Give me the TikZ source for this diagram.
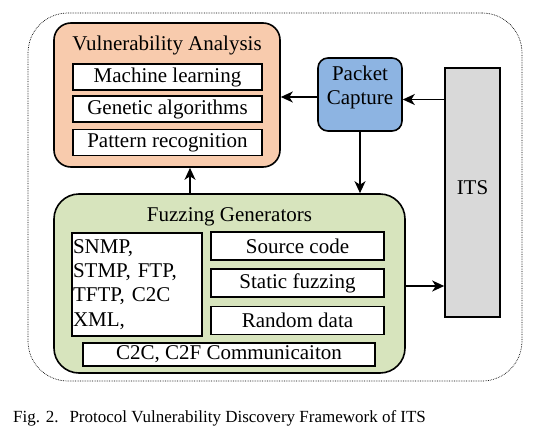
\documentclass[tikz,border=0pt]{standalone}
\usepackage{fontspec}
\setmainfont{Liberation Serif}
\usetikzlibrary{arrows.meta}
\definecolor{vaorange}{RGB}{248,203,173}
\definecolor{pcblue}{RGB}{141,180,226}
\definecolor{itsgray}{RGB}{217,217,217}
\definecolor{fggreen}{RGB}{215,228,189}
\begin{document}
\begin{tikzpicture}[x=1pt,y=-1pt,
  every node/.style={font=\fontsize{21}{24.3}\selectfont, inner sep=0pt},
  group/.style={draw, line width=1.6pt},
  item/.style={draw, fill=white, line width=1.4pt},
  arr/.style={line width=1.5pt, -{Stealth[length=12pt,width=11pt,inset=3.5pt]}}]
\useasboundingbox (0,0) rectangle (543,447);
% outer dotted frame
\node[draw, densely dotted, line width=0.7pt, rounded corners=40pt,
      minimum width=494pt, minimum height=368pt] (frame) at (275,197) {};
% Vulnerability Analysis
\node[group, fill=vaorange, rounded corners=17pt, minimum width=226pt, minimum height=144pt] (va) at (167,95) {};
\node (vatitle) at (167,45) {Vulnerability Analysis};
\node[item, minimum width=189pt, minimum height=26pt] (ml) at (167.5,77) {Machine learning};
\node[item, minimum width=189pt, minimum height=26pt] (ga) at (167.5,109) {Genetic algorithms};
\node[item, minimum width=189pt, minimum height=26pt] (pr) at (167.5,142.5) {Pattern recognition};
% Packet Capture
\node[group, fill=pcblue, rounded corners=10pt, minimum width=84pt, minimum height=73pt] (pc) at (360,94.5) {};
\node[align=center] (pctext) at (360,87.5) {Packet\\Capture};
% ITS
\node[group, fill=itsgray, minimum width=55pt, minimum height=249pt] (its) at (472.5,192.5) {};
\node (itstext) at (472.5,188) {ITS};
% Fuzzing Generators
\node[group, fill=fggreen, rounded corners=25pt, minimum width=351pt, minimum height=179pt] (fg) at (229.5,283.5) {};
\node (fgtitle) at (229.5,217) {Fuzzing Generators};
\node[item, minimum width=130pt, minimum height=103pt, text width=128pt, align=left, inner xsep=1pt] (proto) at (137,284.5)
  {SNMP,\\STMP, FTP,\\TFTP, C2C\\XML,};
\node[item, minimum width=173pt, minimum height=28pt] (src) at (297.5,246) {Source code};
\node[item, minimum width=173pt, minimum height=28pt] (stat) at (297.5,283) {Static fuzzing};
\node[item, minimum width=173pt, minimum height=28pt] (rand) at (297.5,320.5) {Random data};
\node[item, minimum width=292pt, minimum height=23pt] (c2c) at (229,354.5) {C2C, C2F Communicaiton};
% arrows
\coordinate (yA) at (0,99.5);
\coordinate (yB) at (0,97);
\coordinate (yC) at (0,286);
\coordinate (xD) at (190,0);
\draw[arr] (its.west |- yA) -- (pc.east |- yA);
\draw[arr] (pc.west |- yB) -- (va.east |- yB);
\draw[arr] (pc.south) -- (pc.south |- fg.north);
\draw[arr] (fg.north -| xD) -- (va.south -| xD);
\draw[arr] (fg.east |- yC) -- (its.west |- yC);
% caption
\node[anchor=west, font=\fontsize{17}{20}\selectfont] (cap) at (13,418) {Fig. 2.\hspace{11pt}Protocol Vulnerability Discovery Framework of ITS};
\end{tikzpicture}
\end{document}
